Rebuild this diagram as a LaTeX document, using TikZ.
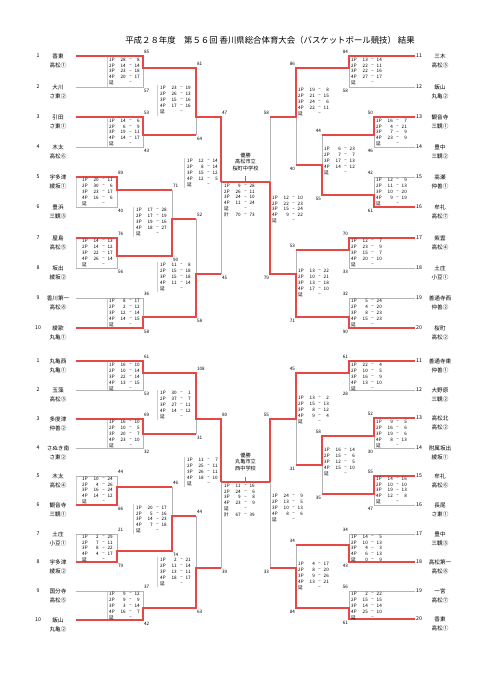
\documentclass[tikz,border=0pt]{standalone}
\usepackage{fontspec}
\setmainfont{Noto Sans CJK JP}
\definecolor{bred}{RGB}{230,72,72}
\definecolor{bgray}{RGB}{180,180,180}
\definecolor{fgray}{RGB}{205,205,205}
\tikzset{
  win/.style={draw=bred, line width=1.4pt, line join=miter},
  lose/.style={draw=bgray, line width=0.6pt},
  frm/.style={draw=fgray, line width=0.4pt},
  st/.style={font=\fontsize{4.6}{5}\selectfont, inner sep=0pt},
  lab/.style={font=\fontsize{4.6}{5}\selectfont, inner sep=0.3pt},
  nm/.style={font=\fontsize{5.6}{6}\selectfont, inner sep=0pt},
  num/.style={font=\fontsize{5.2}{6}\selectfont, inner sep=0pt},
  ttl/.style={font=\fontsize{8.4}{9}\selectfont, inner sep=0pt},
  win2/.style={font=\fontsize{5.2}{6}\selectfont, inner sep=0pt}
}
% score rows: x0, y of first row, list label/a/b
\newcommand{\scorerows}[3]{%
  \foreach \lab/\sa/\sb [count=\i from 0] in {#3} {
    \node[st,anchor=west] at ({#1},{#2+5.9*\i}) {\lab};
    \node[st,anchor=east] at ({#1+17},{#2+5.9*\i}) {\sa};
    \node[st] at ({#1+21.5},{#2+5.9*\i}) {--};
    \node[st,anchor=east] at ({#1+31},{#2+5.9*\i}) {\sb};
  }}
% match labels, left side (right of vertical)
\newcommand{\mlabL}[6]{%
  \node[lab,anchor=south west] (#1t) at ({#2+0.6},{#3-2}) {#5};
  \node[lab,anchor=north west] (#1b) at ({#2+0.6},{#4+2}) {#6};}
% match labels, right side (left of vertical)
\newcommand{\mlabR}[6]{%
  \node[lab,anchor=south east] (#1t) at ({#2-0.6},{#3-2}) {#5};
  \node[lab,anchor=north east] (#1b) at ({#2-0.6},{#4+2}) {#6};}
\newcommand{\teamL}[5]{%
  \node[num] (#1n) at (38,#3) {#2};
  \node[nm] (#1a) at (58,#3) {#4};
  \node[nm] (#1b) at (58,{#3+9.5}) {#5};}
\newcommand{\teamR}[5]{%
  \node[num,anchor=west] (#1n) at (416,#3) {#2};
  \node[nm] (#1a) at (440,#3) {#4};
  \node[nm] (#1b) at (440,{#3+9.5}) {#5};}
\begin{document}
\begin{tikzpicture}[x=1pt,y=-1pt]
\useasboundingbox (0,0) rectangle (481,680);
\fill[white] (0,0) rectangle (481,680);

\node[ttl] (title) at (270,40) {平成２８年度　第５６回 香川県総合体育大会（バスケットボール競技） 結果};

% ---------- box left edges ----------
\foreach \xx/\ya/\yb in {107/56/87, 107/117/147, 76/177/207, 76/238/268, 107/298/328,
  157/85/116, 133/207/237, 157/262/292, 184/158/188,
  107/361/390, 107/419/448, 76/476/505, 76/534/562, 107/591/620,
  157/390/420, 133/504/534, 157/557/587, 184/457/487}
  \draw[frm] (\xx,\ya) -- (\xx,\yb);

% ================= TOP HALF =================
% gray (losing) lines, left
\draw[lose] (76,87) -- (143,87) -- (143,68);
\draw[lose] (76,147) -- (143,147) -- (143,135);
\draw[lose] (196,135) -- (196,117);
\draw[lose] (76,207) -- (117,207) -- (117,190);
\draw[lose] (76,268) -- (117,268) -- (117,256);
\draw[lose] (172,190) -- (172,219);
\draw[lose] (76,298) -- (143,298) -- (143,317);
\draw[lose] (196,219) -- (196,274);
\draw[lose] (221,274) -- (221,182);
% gray lines, right
\draw[lose] (415,87) -- (349,87) -- (349,68);
\draw[lose] (415,147) -- (374,147) -- (374,135);
\draw[lose] (415,177) -- (374,177) -- (374,195);
\draw[lose] (322,135) -- (322,165);
\draw[lose] (296,117) -- (296,165);
\draw[lose] (415,268) -- (349,268) -- (349,250);
\draw[lose] (415,298) -- (349,298) -- (349,317);
\draw[lose] (296,250) -- (296,274);
\draw[lose] (270,117) -- (270,182);
% red (winning) lines, left
\draw[win] (76,56) -- (143,56) -- (143,68) -- (196,68) -- (196,117) -- (221,117) -- (221,182);
\draw[win] (76,117) -- (143,117) -- (143,135) -- (196,135);
\draw[win] (76,177) -- (117,177) -- (117,190) -- (172,190);
\draw[win] (76,238) -- (117,238) -- (117,256) -- (172,256) -- (172,219) -- (196,219);
\draw[win] (76,328) -- (143,328) -- (143,317) -- (196,317) -- (196,274) -- (221,274);
% red lines, right
\draw[win] (415,56) -- (349,56) -- (349,68) -- (296,68) -- (296,117) -- (270,117);
\draw[win] (415,117) -- (374,117) -- (374,135) -- (322,135);
\draw[win] (415,207) -- (374,207) -- (374,195) -- (322,195) -- (322,165) -- (296,165);
\draw[win] (415,238) -- (349,238) -- (349,250) -- (296,250);
\draw[win] (415,328) -- (349,328) -- (349,317) -- (296,317) -- (296,274) -- (270,274) -- (270,182);
% final
\draw[win] (221,182) -- (270,182);
\draw[win] (245.5,182) -- (245.5,175.5);
\node[win2] (w1a) at (245.5,155.5) {優勝};
\node[win2] (w1b) at (245.5,162) {高松市立};
\node[win2] (w1c) at (245.5,168.5) {桜町中学校};

% ================= BOTTOM HALF =================
\draw[lose] (76,390) -- (143,390) -- (143,373);
\draw[lose] (76,448) -- (143,448) -- (143,434);
\draw[lose] (196,434) -- (196,419);
\draw[lose] (76,476) -- (117,476) -- (117,487);
\draw[lose] (76,534) -- (117,534) -- (117,551);
\draw[lose] (172,487) -- (172,516);
\draw[lose] (76,591) -- (143,591) -- (143,608);
\draw[lose] (196,516) -- (196,568);
\draw[lose] (221,568) -- (221,482);
\draw[lose] (415,390) -- (349,390) -- (349,373);
\draw[lose] (415,448) -- (374,448) -- (374,436);
\draw[lose] (415,505) -- (374,505) -- (374,494);
\draw[lose] (322,494) -- (322,465);
\draw[lose] (296,465) -- (296,419);
\draw[lose] (415,534) -- (349,534) -- (349,545);
\draw[lose] (415,591) -- (349,591) -- (349,608);
\draw[lose] (296,545) -- (296,568);
\draw[lose] (270,568) -- (270,482);
\draw[win] (76,361) -- (143,361) -- (143,373) -- (196,373) -- (196,419) -- (221,419) -- (221,482);
\draw[win] (76,419) -- (143,419) -- (143,434) -- (196,434);
\draw[win] (76,505) -- (117,505) -- (117,487) -- (172,487);
\draw[win] (76,562) -- (117,562) -- (117,551) -- (172,551) -- (172,516) -- (196,516);
\draw[win] (76,620) -- (143,620) -- (143,608) -- (196,608) -- (196,568) -- (221,568);
\draw[win] (415,361) -- (349,361) -- (349,373) -- (296,373) -- (296,419) -- (270,419) -- (270,482);
\draw[win] (415,418) -- (374,418) -- (374,436) -- (322,436) -- (322,465) -- (296,465);
\draw[win] (415,476) -- (374,476) -- (374,494) -- (322,494);
\draw[win] (415,562) -- (349,562) -- (349,545) -- (296,545);
\draw[win] (415,619) -- (349,619) -- (349,608) -- (296,608) -- (296,568) -- (270,568);
\draw[win] (221,482) -- (270,482);
\draw[win] (245.5,482) -- (245.5,476.5);
\node[win2] (w2a) at (245.5,455.5) {優勝};
\node[win2] (w2b) at (245.5,462) {丸亀市立};
\node[win2] (w2c) at (245.5,468.5) {西中学校};

% ================= SCORES =================
\scorerows{109}{59.5}{1P/28/8, 2P/14/14, 3P/23/18, 4P/20/17, 延/{}/{}}
\scorerows{109}{120.5}{1P/14/6, 2P/6/9, 3P/19/11, 4P/14/17, 延/{}/{}}
\scorerows{82}{180}{1P/20/11, 2P/30/6, 3P/23/17, 4P/16/6, 延/{}/{}}
\scorerows{82}{241}{1P/14/13, 2P/14/12, 3P/22/17, 4P/26/14, 延/{}/{}}
\scorerows{109}{301}{1P/8/17, 2P/2/12, 3P/12/14, 4P/14/15, 延/{}/{}}
\scorerows{160}{88}{1P/23/19, 2P/26/13, 3P/15/16, 4P/17/16, 延/{}/{}}
\scorerows{136}{210}{1P/17/28, 2P/17/19, 3P/19/16, 4P/18/27, 延/{}/{}}
\scorerows{160}{265}{1P/11/8, 2P/15/18, 3P/15/18, 4P/11/14, 延/{}/{}}
\scorerows{187}{161}{1P/12/14, 2P/8/14, 3P/15/12, 4P/12/5, 延/{}/{}}
\scorerows{224}{185.5}{1P/9/28, 2P/26/11, 3P/24/10, 4P/11/24, 延/{}/{}, 計/70/73}
\scorerows{272}{197.5}{1P/12/10, 2P/22/23, 3P/15/24, 4P/9/22, 延/{}/{}}
\scorerows{351}{59.5}{1P/13/14, 2P/22/11, 3P/22/16, 4P/27/17, 延/{}/{}}
\scorerows{298}{90}{1P/19/8, 2P/21/15, 3P/24/6, 4P/22/11, 延/{}/{}}
\scorerows{376}{120.5}{1P/16/7, 2P/4/21, 3P/7/9, 4P/23/9, 延/{}/{}}
\scorerows{324}{149}{1P/6/23, 2P/7/7, 3P/17/13, 4P/14/12, 延/{}/{}}
\scorerows{376}{180}{1P/12/9, 2P/11/13, 3P/10/20, 4P/9/19, 延/{}/{}}
\scorerows{351}{241}{1P/12/7, 2P/23/9, 3P/15/7, 4P/20/10, 延/{}/{}}
\scorerows{298}{271}{1P/13/22, 2P/10/21, 3P/13/18, 4P/17/10, 延/{}/{}}
\scorerows{351}{301}{1P/5/24, 2P/4/20, 3P/8/23, 4P/15/23, 延/{}/{}}
% bottom
\scorerows{109}{365}{1P/16/10, 2P/10/14, 3P/22/14, 4P/13/15, 延/{}/{}}
\scorerows{109}{422}{1P/16/10, 2P/10/5, 3P/20/7, 4P/23/10, 延/{}/{}}
\scorerows{82}{478.5}{1P/10/24, 2P/4/26, 3P/16/24, 4P/14/12, 延/{}/{}}
\scorerows{82}{536.5}{1P/2/29, 2P/7/11, 3P/8/22, 4P/4/17, 延/{}/{}}
\scorerows{109}{594}{1P/9/12, 2P/9/9, 3P/3/14, 4P/16/7, 延/{}/{}}
\scorerows{160}{393}{1P/30/1, 2P/37/7, 3P/27/11, 4P/14/12, 延/{}/{}}
\scorerows{136}{507.5}{1P/20/17, 2P/5/16, 3P/14/23, 4P/7/18, 延/{}/{}}
\scorerows{160}{560}{1P/2/21, 2P/11/14, 3P/13/11, 4P/18/17, 延/{}/{}}
\scorerows{187}{460}{1P/11/7, 2P/25/11, 3P/26/11, 4P/18/10, 延/{}/{}}
\scorerows{224}{485.5}{1P/11/16, 2P/24/6, 3P/9/8, 4P/23/9, 延/{}/{}, 計/67/39}
\scorerows{272}{496}{1P/24/9, 2P/13/5, 3P/10/13, 4P/8/6, 延/{}/{}}
\scorerows{351}{365}{1P/22/4, 2P/10/5, 3P/16/9, 4P/13/10, 延/{}/{}}
\scorerows{298}{398}{1P/13/2, 2P/15/13, 3P/8/12, 4P/9/4, 延/{}/{}}
\scorerows{376}{422}{1P/9/5, 2P/16/6, 3P/19/6, 4P/8/13, 延/{}/{}}
\scorerows{324}{450}{1P/16/14, 2P/15/6, 3P/12/5, 4P/15/10, 延/{}/{}}
\scorerows{376}{478.5}{1P/14/16, 2P/10/10, 3P/19/13, 4P/12/8, 延/{}/{}}
\scorerows{351}{536.5}{1P/14/5, 2P/10/13, 3P/4/3, 4P/6/13, 延/0/9}
\scorerows{298}{564}{1P/4/17, 2P/8/20, 3P/9/26, 4P/13/21, 延/{}/{}}
\scorerows{351}{594}{1P/2/22, 2P/15/15, 3P/14/14, 4P/25/10, 延/{}/{}}

% ================= MATCH TOTALS =================
\mlabL{a1}{143}{56}{87}{85}{57}
\mlabL{a2}{143}{117}{147}{53}{43}
\mlabL{a3}{117}{177}{207}{89}{40}
\mlabL{a4}{117}{238}{268}{76}{56}
\mlabL{a5}{143}{298}{328}{36}{58}
\mlabL{a6}{196}{68}{135}{81}{64}
\mlabL{a7}{172}{190}{256}{71}{90}
\mlabL{a8}{196}{219}{317}{52}{58}
\mlabL{a9}{221}{117}{274}{47}{45}
\mlabR{b1}{349}{56}{87}{84}{58}
\mlabR{b2}{374}{117}{147}{50}{46}
\mlabR{b3}{374}{177}{207}{42}{61}
\mlabR{b4}{349}{238}{268}{70}{33}
\mlabR{b5}{349}{298}{328}{32}{90}
\mlabR{b6}{322}{135}{195}{44}{55}
\mlabR{b7}{296}{68}{165}{86}{40}
\mlabR{b8}{296}{250}{317}{53}{71}
\mlabR{b9}{270}{117}{274}{58}{79}
\mlabL{c1}{143}{361}{390}{61}{53}
\mlabL{c2}{143}{419}{448}{69}{32}
\mlabL{c3}{117}{476}{505}{44}{86}
\mlabL{c4}{117}{534}{562}{21}{79}
\mlabL{c5}{143}{591}{620}{37}{42}
\mlabL{c6}{196}{373}{434}{108}{31}
\mlabL{c7}{172}{487}{551}{46}{74}
\mlabL{c8}{196}{516}{608}{44}{63}
\mlabL{c9}{221}{419}{568}{80}{39}
\mlabR{d1}{349}{361}{390}{61}{28}
\mlabR{d2}{374}{418}{448}{52}{30}
\mlabR{d3}{374}{476}{505}{55}{47}
\mlabR{d4}{349}{534}{562}{34}{43}
\mlabR{d5}{349}{591}{619}{56}{61}
\mlabR{d6}{322}{436}{494}{58}{35}
\mlabR{d7}{296}{373}{465}{45}{31}
\mlabR{d8}{296}{545}{608}{34}{84}
\mlabR{d9}{270}{419}{568}{55}{33}

% ================= TEAMS =================
\teamL{tl1}{1}{56}{香東}{高松①}
\teamL{tl2}{2}{87}{大川}{さ東②}
\teamL{tl3}{3}{117}{引田}{さ東①}
\teamL{tl4}{4}{147}{木太}{高松⑥}
\teamL{tl5}{5}{177}{宇多津}{綾坂①}
\teamL{tl6}{6}{207}{豊浜}{三観③}
\teamL{tl7}{7}{238}{屋島}{高松⑤}
\teamL{tl8}{8}{268}{坂出}{綾坂②}
\teamL{tl9}{9}{298}{香川第一}{高松⑧}
\teamL{tl10}{10}{328}{綾歌}{丸亀①}
\teamR{tr11}{11}{56}{三木}{高松③}
\teamR{tr12}{12}{87}{飯山}{丸亀②}
\teamR{tr13}{13}{117}{観音寺}{三観①}
\teamR{tr14}{14}{147}{豊中}{三観②}
\teamR{tr15}{15}{177}{高瀬}{仲善①}
\teamR{tr16}{16}{207}{牟礼}{高松⑦}
\teamR{tr17}{17}{238}{紫雲}{高松④}
\teamR{tr18}{18}{268}{土庄}{小豆①}
\teamR{tr19}{19}{298}{善通寺西}{仲善②}
\teamR{tr20}{20}{328}{桜町}{高松②}
\teamL{bl1}{1}{361}{丸亀西}{丸亀①}
\teamL{bl2}{2}{390}{玉藻}{高松③}
\teamL{bl3}{3}{419}{多度津}{仲善②}
\teamL{bl4}{4}{448}{さぬき南}{さ東②}
\teamL{bl5}{5}{476}{木太}{高松④}
\teamL{bl6}{6}{505}{観音寺}{三観①}
\teamL{bl7}{7}{534}{土庄}{小豆①}
\teamL{bl8}{8}{562}{宇多津}{綾坂②}
\teamL{bl9}{9}{591}{国分寺}{高松⑤}
\teamL{bl10}{10}{620}{飯山}{丸亀②}
\teamR{br11}{11}{361}{善通寺東}{仲善①}
\teamR{br12}{12}{390}{大野原}{三観②}
\teamR{br13}{13}{418}{高松北}{高松②}
\teamR{br14}{14}{448}{附属坂出}{綾坂①}
\teamR{br15}{15}{476}{牟礼}{高松⑥}
\teamR{br16}{16}{505}{長尾}{さ東①}
\teamR{br17}{17}{534}{豊中}{三観③}
\teamR{br18}{18}{562}{高松第一}{高松⑧}
\teamR{br19}{19}{591}{一宮}{高松⑦}
\teamR{br20}{20}{619}{香東}{高松①}
\end{tikzpicture}
\end{document}
